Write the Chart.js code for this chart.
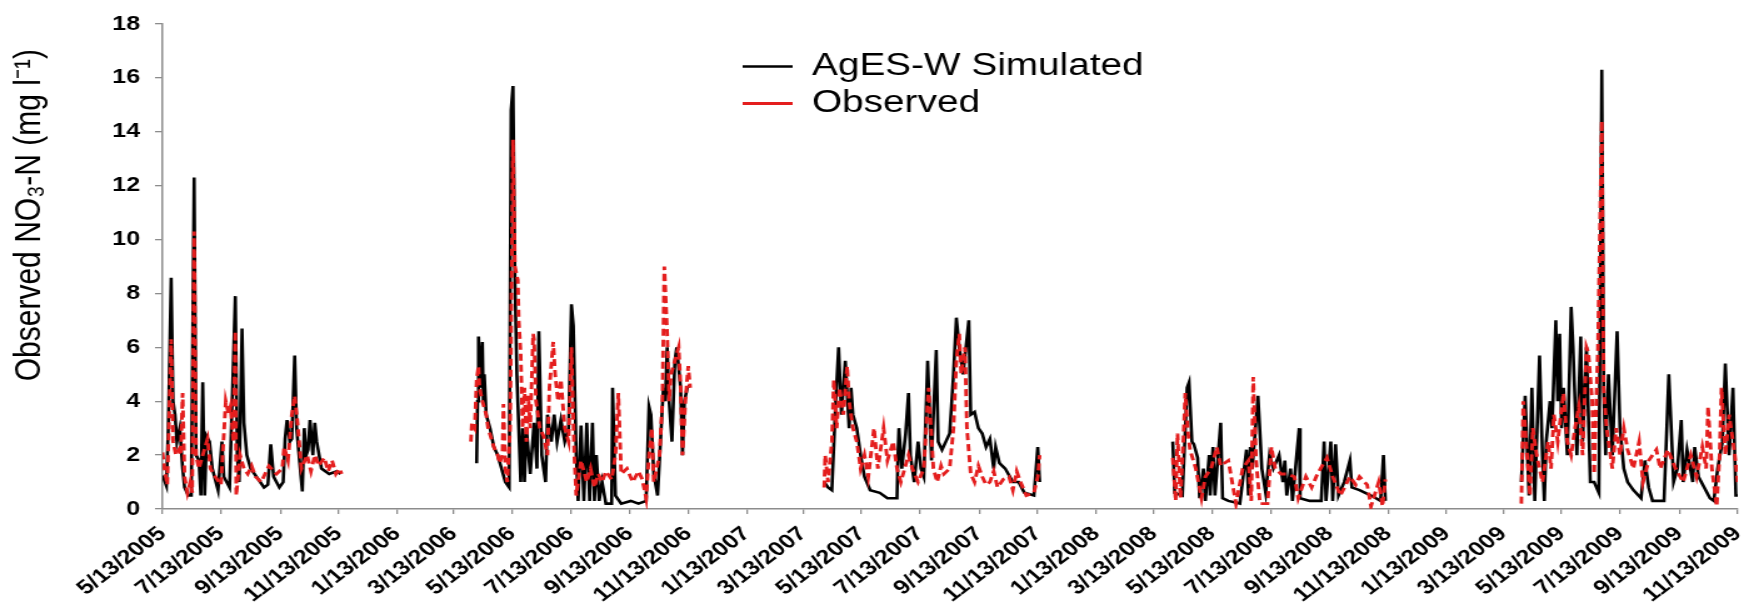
<!DOCTYPE html>
<html>
<head>
<meta charset="utf-8">
<script src="https://cdn.jsdelivr.net/npm/chart.js@4.4.1/dist/chart.umd.min.js"></script>
<style>
  html, body { margin: 0; padding: 0; background: #fff; }
</style>
</head>
<body>
<!-- the source figure is stretched sideways, so the canvas is drawn narrower and scaled up -->
<canvas id="no3" width="1395" height="605" style="width:1744px;height:605px;display:block"></canvas>
<script>
// x values are days since 5/13/2005; null breaks the line between seasons
const tickLabels = ['5/13/2005', '7/13/2005', '9/13/2005', '11/13/2005', '1/13/2006', '3/13/2006',
  '5/13/2006', '7/13/2006', '9/13/2006', '11/13/2006', '1/13/2007', '3/13/2007', '5/13/2007',
  '7/13/2007', '9/13/2007', '11/13/2007', '1/13/2008', '3/13/2008', '5/13/2008', '7/13/2008',
  '9/13/2008', '11/13/2008', '1/13/2009', '3/13/2009', '5/13/2009', '7/13/2009', '9/13/2009', '11/13/2009'];

const simDays = [
  0, 4, 6, 9, 11, 13, 15, 18, 21, 23, 27, 30, 33, 35, 38, 40, 42, 44, 46, 49, 52, 58, 62, 64, 70, 76, 78, 80, 83, 85,
  88, 92, 98, 106, 110, 113, 116, 122, 126, 128, 130, 133, 135, 138, 140, 143, 146, 148, 150, 152, 154, 157, 159, 161,
  166, 174, 182, 186, 250,
  328, 329, 330, 332, 334, 335, 336, 338, 342, 346, 350, 354, 358, 362, 364, 366, 368, 370, 372, 374, 376, 378, 380,
  384, 388, 391, 393, 396, 400, 402, 406, 409, 412, 416, 420, 424, 427, 429, 432, 434, 437, 440, 443, 446, 449, 451,
  453, 456, 459, 463, 469, 470, 473, 479, 489, 497, 505, 508, 510, 513, 517, 520, 523, 525, 527, 529, 532, 535, 537,
  541, 543, 545, 548, 551, 620,
  691, 695, 699, 703, 706, 709, 711, 713, 717, 719, 721, 725, 729, 733, 739, 749, 757, 767, 768, 769, 772, 776, 779,
  781, 785, 789, 792, 795, 799, 803, 808, 810, 814, 818, 822, 826, 829, 832, 836, 842, 844, 848, 852, 856, 860, 864,
  868, 870, 874, 880, 888, 894, 900, 910, 914, 916, 985,
  1055, 1057, 1065, 1070, 1072, 1075, 1077, 1081, 1083, 1087, 1089, 1093, 1094, 1097, 1099, 1105, 1107, 1113, 1125,
  1132, 1134, 1136, 1138, 1144, 1148, 1152, 1156, 1160, 1166, 1170, 1172, 1174, 1178, 1180, 1187, 1188, 1198, 1210,
  1213, 1215, 1220, 1222, 1225, 1228, 1234, 1240, 1242, 1250, 1262, 1272, 1275, 1277, 1350,
  1419, 1423, 1427, 1430, 1433, 1438, 1441, 1443, 1445, 1449, 1451, 1455, 1457, 1459, 1461, 1463, 1467, 1471, 1473,
  1477, 1481, 1483, 1487, 1491, 1495, 1500, 1503, 1505, 1507, 1510, 1514, 1519, 1522, 1526, 1530, 1536, 1544, 1548,
  1552, 1556, 1568, 1573, 1578, 1582, 1586, 1588, 1592, 1598, 1600, 1604, 1610, 1616, 1620, 1624, 1629, 1632, 1636,
  1640, 1643, 1645];
const simValues = [
  1.24, 0.86, 3.0, 8.58, 4.0, 3.5, 2.5, 3.0, 1.5, 0.8, 0.5, 0.5, 12.3, 2.0, 1.8, 0.5, 4.7, 0.5, 2.7, 2.5, 1.5, 0.7, 2.5,
  1.2, 0.8, 7.9, 2.0, 1.0, 6.7, 3.2, 2.0, 1.5, 1.2, 0.8, 0.9, 2.4, 1.2, 0.8, 1.0, 2.6, 3.3, 2.5, 2.6, 5.7, 3.0, 1.8,
  0.65, 3.0, 2.0, 2.2, 3.3, 2.0, 3.2, 2.5, 1.5, 1.3, 1.4, 1.3, null,
  1.7, 4.0, 6.4, 4.5, 6.2, 4.0, 5.0, 3.5, 3.0, 2.3, 2.0, 1.5, 1.0, 0.8, 14.8, 15.7, 8.5, 5.0, 3.0, 1.0, 3.0, 1.0, 3.0,
  1.3, 3.2, 1.5, 6.6, 2.0, 1.0, 3.5, 2.5, 3.5, 2.5, 3.3, 2.5, 3.0, 7.6, 6.8, 2.0, 0.3, 3.1, 0.3, 3.2, 0.3, 3.2, 0.3,
  2.0, 0.3, 1.0, 0.2, 0.2, 4.5, 0.5, 0.2, 0.3, 0.2, 0.3, 3.8, 3.5, 1.3, 0.5, 2.5, 4.5, 4.0, 6.0, 4.0, 2.5, 5.5, 6.0,
  4.5, 2.0, 4.0, 4.5, 4.6, null,
  1.0, 0.8, 0.7, 4.0, 6.0, 3.5, 4.5, 5.5, 3.0, 4.5, 3.5, 3.0, 2.0, 1.2, 0.7, 0.6, 0.4, 0.4, 2.0, 3.0, 1.5, 2.8, 4.3,
  2.0, 1.0, 2.5, 1.5, 1.2, 5.5, 1.8, 5.9, 2.5, 2.2, 2.5, 2.8, 5.0, 7.1, 6.0, 5.0, 7.0, 3.5, 3.6, 3.0, 2.8, 2.3, 2.6,
  1.5, 2.3, 1.7, 1.5, 1.0, 1.0, 0.6, 0.5, 2.3, 1.0, null,
  2.5, 0.6, 0.5, 4.5, 4.7, 2.5, 2.4, 1.9, 0.4, 1.5, 0.3, 2.0, 0.5, 2.3, 0.5, 3.2, 0.4, 0.3, 0.2, 2.2, 0.5, 2.3, 1.5,
  4.2, 1.5, 0.6, 2.0, 1.5, 2.0, 1.0, 1.8, 0.5, 1.5, 0.3, 3.0, 0.4, 0.3, 0.3, 2.5, 0.3, 2.5, 0.3, 2.4, 0.5, 1.0, 1.8,
  0.8, 0.7, 0.5, 0.3, 2.0, 0.3, null,
  1.0, 4.2, 0.5, 4.5, 0.3, 5.7, 2.0, 0.3, 2.5, 4.0, 3.0, 7.0, 4.0, 6.5, 3.0, 4.5, 2.0, 7.5, 6.0, 2.0, 6.4, 2.5, 6.0,
  1.0, 1.0, 0.6, 16.3, 4.5, 2.0, 5.0, 2.0, 6.6, 3.0, 1.5, 1.0, 0.7, 0.4, 1.8, 0.8, 0.3, 0.3, 5.0, 1.0, 1.5, 3.3, 1.0,
  2.2, 1.0, 2.3, 1.2, 0.8, 0.4, 0.3, 1.5, 2.5, 5.4, 2.0, 4.5, 0.5, 0.5];

const obsDays = [
  0, 2, 5, 9, 11, 14, 17, 19, 21, 23, 26, 29, 31, 33, 35, 38, 42, 47, 50, 55, 61, 66, 69, 71, 74, 76, 77, 81, 85, 89,
  93, 97, 103, 111, 119, 125, 127, 131, 135, 138, 141, 145, 151, 155, 159, 163, 169, 173, 177, 181, 185, 187, 250,
  322, 323, 326, 328, 330, 331, 334, 338, 340, 346, 350, 352, 355, 356, 358, 360, 363, 366, 368, 371, 372, 374, 376,
  378, 380, 382, 384, 387, 388, 390, 394, 398, 402, 404, 408, 410, 413, 416, 420, 424, 427, 430, 432, 437, 443, 447,
  451, 455, 459, 463, 469, 473, 476, 479, 485, 491, 497, 501, 505, 508, 511, 513, 519, 522, 524, 527, 529, 531, 535,
  539, 541, 543, 546, 549, 551, 620,
  691, 692, 695, 699, 701, 704, 707, 711, 715, 717, 721, 725, 729, 733, 737, 743, 747, 753, 757, 763, 767, 771, 775,
  779, 783, 789, 795, 800, 805, 809, 813, 816, 822, 826, 829, 832, 834, 838, 840, 844, 848, 852, 856, 860, 864, 868,
  872, 878, 884, 888, 892, 896, 902, 910, 914, 916, 985,
  1055, 1058, 1060, 1063, 1066, 1068, 1071, 1073, 1079, 1085, 1089, 1095, 1101, 1105, 1113, 1117, 1121, 1128, 1134,
  1137, 1139, 1142, 1146, 1154, 1158, 1162, 1168, 1174, 1182, 1186, 1194, 1200, 1206, 1216, 1222, 1230, 1240, 1246,
  1250, 1258, 1262, 1270, 1274, 1277, 1350,
  1419, 1421, 1425, 1428, 1431, 1435, 1441, 1447, 1450, 1453, 1457, 1463, 1467, 1471, 1475, 1479, 1483, 1487, 1489,
  1493, 1495, 1499, 1503, 1505, 1508, 1514, 1518, 1522, 1526, 1530, 1536, 1542, 1546, 1552, 1560, 1564, 1572, 1580,
  1588, 1596, 1602, 1608, 1612, 1614, 1618, 1623, 1626, 1628, 1632, 1636, 1642, 1645];
const obsValues = [
  2.1, 1.5, 0.9, 6.3, 2.5, 2.0, 2.2, 2.0, 4.3, 1.2, 0.6, 1.0, 0.6, 10.3, 2.0, 1.5, 2.0, 2.6, 1.5, 1.2, 0.9, 4.0, 3.5,
  3.8, 2.5, 6.6, 0.5, 2.0, 1.5, 1.3, 1.6, 1.2, 1.0, 1.6, 1.3, 1.5, 2.3, 1.8, 3.5, 4.2, 3.2, 1.5, 2.0, 1.4, 2.0, 1.6,
  1.9, 1.4, 1.8, 1.3, 1.5, 1.3, null,
  2.5, 3.2, 3.0, 4.8, 5.3, 4.5, 4.0, 3.5, 3.0, 2.3, 2.0, 1.7, 2.0, 3.9, 1.5, 1.0, 3.0, 13.7, 9.0, 8.5, 7.0, 5.8, 3.0,
  4.5, 2.5, 4.2, 3.0, 6.5, 6.3, 4.0, 3.0, 2.7, 2.0, 4.5, 6.2, 5.0, 4.0, 4.8, 3.0, 2.5, 6.0, 2.0, 0.5, 1.8, 1.0, 1.5,
  0.8, 1.3, 1.0, 1.4, 1.1, 2.0, 4.3, 1.3, 1.5, 1.0, 1.4, 1.1, 0.4, 2.0, 3.0, 1.0, 2.0, 4.0, 9.0, 6.5, 4.0, 5.0, 5.5,
  6.0, 4.5, 2.0, 4.0, 5.3, 4.5, null,
  0.8, 2.0, 1.0, 2.5, 4.8, 3.0, 4.5, 3.5, 5.3, 4.0, 3.0, 2.5, 1.5, 2.0, 1.2, 3.0, 1.5, 3.0, 1.8, 2.5, 1.5, 1.0, 1.5,
  2.0, 1.5, 1.0, 1.5, 4.5, 1.5, 1.0, 1.6, 1.3, 1.5, 3.0, 5.5, 6.5, 5.0, 6.0, 3.0, 1.3, 1.0, 1.6, 1.2, 0.9, 1.0, 1.4,
  0.8, 1.1, 1.2, 0.7, 1.4, 1.0, 0.5, 0.6, 1.2, 2.0, null,
  1.9, 0.3, 2.8, 0.4, 2.5, 4.3, 2.8, 2.2, 1.5, 0.4, 1.2, 1.5, 2.3, 1.6, 1.8, 1.0, 0.2, 1.5, 1.8, 0.3, 4.9, 1.8, 0.2,
  0.2, 2.3, 1.5, 1.3, 1.3, 1.2, 0.4, 1.2, 0.8, 1.3, 1.9, 1.2, 0.5, 1.2, 0.9, 1.2, 0.9, 0.1, 1.0, 0.1, 1.1, null,
  0.2, 4.0, 2.0, 0.5, 3.0, 2.0, 1.0, 2.5, 1.5, 3.5, 2.5, 4.3, 2.5, 2.0, 3.0, 3.8, 2.0, 6.0, 5.8, 4.0, 1.3, 6.0, 14.4,
  4.5, 3.0, 1.5, 3.0, 2.0, 3.0, 2.2, 1.5, 2.5, 1.0, 1.8, 2.2, 1.5, 2.2, 1.5, 1.0, 2.0, 1.2, 2.3, 1.5, 3.8, 1.5, 0.1,
  2.0, 4.5, 2.0, 3.5, 2.0, 1.0];

const dayMs = 86400000;
const day0 = Date.UTC(2005, 4, 13);
const tickDays = tickLabels.map(s => {
  const [m, d, y] = s.split('/').map(Number);
  return Math.round((Date.UTC(y, m - 1, d) - day0) / dayMs);
});

const toPoints = (days, vals) => days.map((d, i) => ({ x: d, y: vals[i] }));

Chart.defaults.font.family = "'Liberation Sans', Arial, sans-serif";
Chart.defaults.color = '#000';

// legend sits inside the plot, up near the middle
const legendSpot = {
  id: 'legendSpot',
  afterLayout(chart) {
    const lg = chart.legend;
    lg.left = 588;
    lg.top = 45;
    lg.right = chart.width;
    lg.bottom = chart.height;
  }
};

new Chart(document.getElementById('no3'), {
  type: 'line',
  data: {
    datasets: [
      { label: 'AgES-W Simulated', data: toPoints(simDays, simValues), borderColor: '#000',
        borderWidth: 2.6, pointRadius: 0, tension: 0, order: 2 },
      { label: 'Observed', data: toPoints(obsDays, obsValues), borderColor: '#e41e1e',
        borderWidth: 2.9, borderDash: [7, 4], pointRadius: 0, tension: 0, order: 1 }
    ]
  },
  plugins: [legendSpot],
  options: {
    responsive: false,
    devicePixelRatio: 1,
    animation: false,
    spanGaps: false,
    layout: { padding: { left: 0, right: 5, top: 19, bottom: 0 } },
    plugins: {
      tooltip: { enabled: false },
      legend: {
        position: 'chartArea',
        align: 'start',
        labels: {
          usePointStyle: true, pointStyle: 'line', pointStyleWidth: 40,
          padding: 6, color: '#000', font: { size: 31 },
          sort: (a, b) => a.datasetIndex - b.datasetIndex
        }
      }
    },
    scales: {
      x: {
        type: 'linear', min: 0, max: 1645,
        afterBuildTicks: s => { s.ticks = tickDays.map(v => ({ value: v })); },
        afterFit: s => { s.height = 96; s.paddingRight = 0; },
        ticks: {
          autoSkip: false, minRotation: 43, maxRotation: 43, padding: 8,
          font: { size: 20, weight: 'bold' },
          callback: v => tickLabels[tickDays.indexOf(v)]
        },
        grid: { drawOnChartArea: false, tickLength: 5, color: '#8c8c8c', lineWidth: 1.3 },
        border: { color: '#8c8c8c', width: 1.5 }
      },
      y: {
        min: 0, max: 18,
        afterFit: s => { s.width = 130; },
        ticks: { stepSize: 2, padding: 12, font: { size: 20, weight: 'bold' } },
        grid: { drawOnChartArea: false, tickLength: 6, color: '#8c8c8c', lineWidth: 1.3 },
        border: { color: '#8c8c8c', width: 1.5 },
        title: {
          // trailing no-break spaces keep the title clear of the top, as in the source
          display: true, text: 'Observed NO₃-N (mg l⁻¹)' + '\u00a0'.repeat(3), color: '#000',
          align: 'end', font: { size: 30 }, padding: { top: 6, bottom: 0 }
        }
      }
    }
  }
});
</script>
</body>
</html>
